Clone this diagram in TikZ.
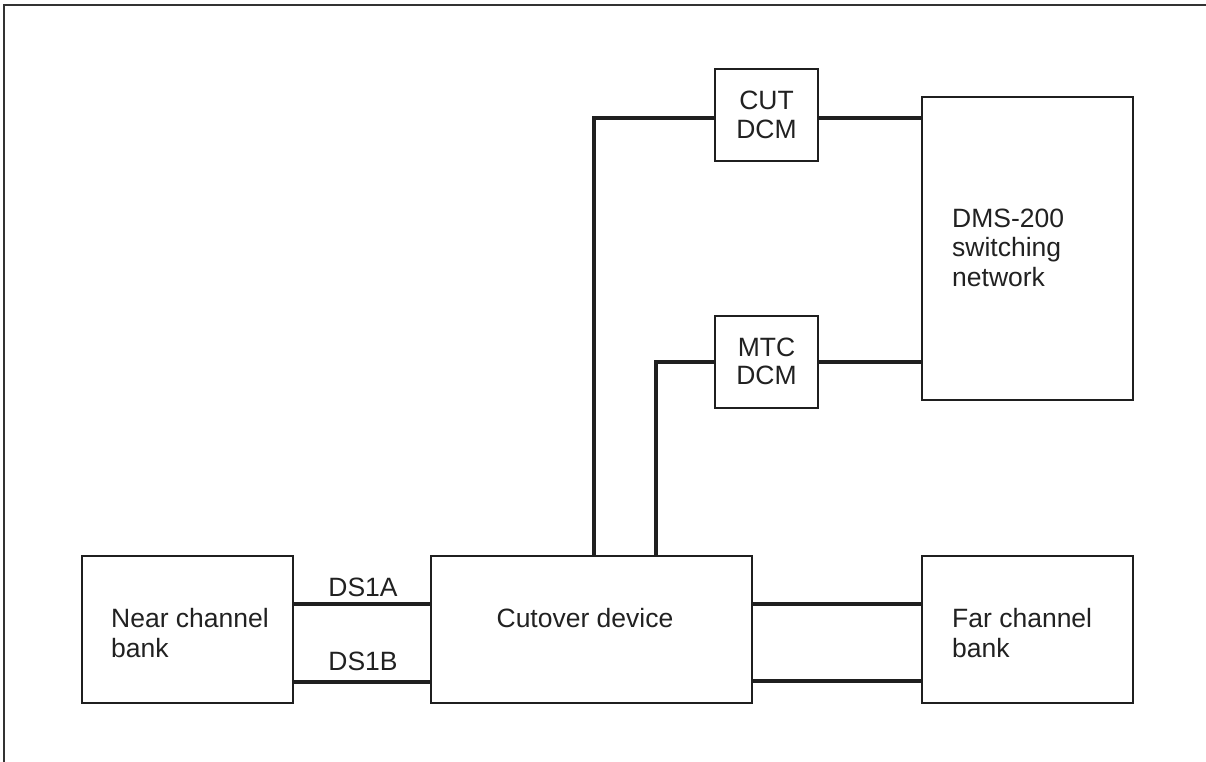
\documentclass[tikz,border=0pt]{standalone}
\usepackage{fontspec}
\setmainfont{Liberation Sans}
\begin{document}
\begin{tikzpicture}[x=1pt,y=-1pt,
  box/.style={draw=black!88,line width=2pt,inner sep=0pt},
  wire/.style={draw=black!88,line width=3.3pt},
  txt/.style={inner sep=0pt,anchor=base west,font=\fontsize{26.5}{29.5}\selectfont,text=black!87},
  ctxt/.style={txt,anchor=base}]
\useasboundingbox (0,0) rectangle (1206,762);
\draw[line width=2pt,black!80] (3.5,762) -- (3.5,5) -- (1206,5);
% boxes
\node[box,minimum width=211pt,minimum height=147pt] (near) at (187.5,629.5) {};
\node[box,minimum width=321pt,minimum height=147pt] (cutover) at (591.5,629.5) {};
\node[box,minimum width=211pt,minimum height=147pt] (far) at (1027.5,629.5) {};
\node[box,minimum width=211pt,minimum height=303pt] (dms) at (1027.5,248.5) {};
\node[box,minimum width=103pt,minimum height=92pt] (cut) at (766.5,115) {};
\node[box,minimum width=103pt,minimum height=92pt] (mtc) at (766.5,362) {};
% wires
\draw[wire] (cutover.north -| 594,0) |- (cut.west |- 0,118);
\draw[wire] (cut.east |- 0,118) -- (dms.west |- 0,118);
\draw[wire] (cutover.north -| 656,0) |- (mtc.west);
\draw[wire] (mtc.east) -- (dms.west |- mtc.east);
\draw[wire] (near.east |- 0,604) -- (cutover.west |- 0,604);
\draw[wire] (near.east |- 0,682) -- (cutover.west |- 0,682);
\draw[wire] (cutover.east |- 0,604) -- (far.west |- 0,604);
\draw[wire] (cutover.east |- 0,681) -- (far.west |- 0,681);
% texts
\node[txt] (near1) at (111,627) {Near channel};
\node[txt] (near2) at (111,657) {bank};
\node[ctxt] (cutovert) at (585,627) {Cutover device};
\node[txt] (far1) at (952,627) {Far channel};
\node[txt] (far2) at (952,657) {bank};
\node[txt] (dms1) at (952,227) {DMS-200};
\node[txt] (dms2) at (952,256.5) {switching};
\node[txt] (dms3) at (952,286) {network};
\node[ctxt] (cut1) at (766.5,110) {CUT};
\node[ctxt] (cut2) at (766.5,139) {DCM};
\node[ctxt] (mtc1) at (766.5,356) {MTC};
\node[ctxt] (mtc2) at (766.5,384.5) {DCM};
\node[ctxt] (ds1a) at (363,596) {DS1A};
\node[ctxt] (ds1b) at (363,670) {DS1B};
\end{tikzpicture}
\end{document}
